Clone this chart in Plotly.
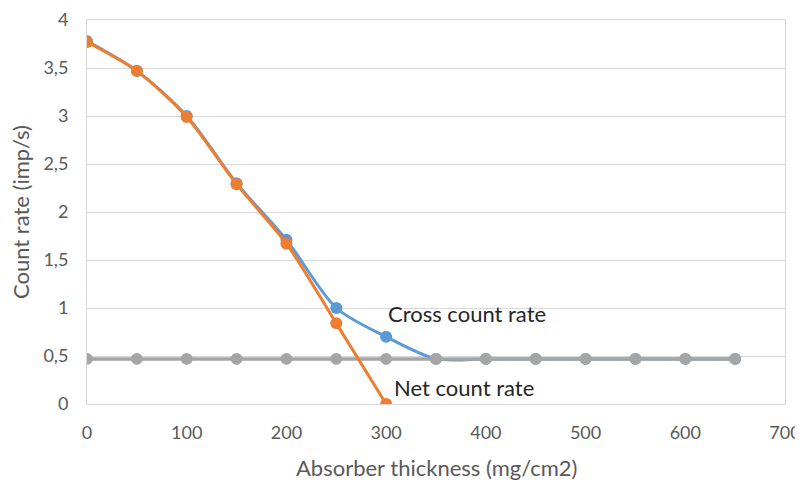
import plotly.graph_objects as go

x_net = [0, 50, 100, 150, 200, 250, 300]
net_rate = [3.77, 3.47, 2.99, 2.29, 1.67, 0.84, 0.0]

x_cross = [0, 50, 100, 150, 200, 250, 300, 350, 400, 450, 500, 550, 600, 650]
cross_rate = [3.78, 3.47, 3.0, 2.30, 1.71, 1.0, 0.70, 0.47, 0.47, 0.47, 0.47, 0.47, 0.47, 0.47]

x_bg = [0, 50, 100, 150, 200, 250, 300, 350, 400, 450, 500, 550, 600, 650]
bg_rate = [0.47] * 14

BLUE = "#5B9BD5"
ORANGE = "#ED7D31"
GRAY = "#A5A5A5"
TXT = "#595959"
FONT = "Lato"

fig = go.Figure()
fig.add_trace(go.Scatter(x=x_cross, y=cross_rate, mode="lines+markers",
                         line=dict(color=BLUE, width=3, shape="spline", smoothing=0.8),
                         marker=dict(color=BLUE, size=12), name="Cross count rate"))
fig.add_trace(go.Scatter(x=x_bg, y=bg_rate, mode="lines+markers",
                         line=dict(color=GRAY, width=3.5),
                         marker=dict(color=GRAY, size=12), name="Background"))
fig.add_trace(go.Scatter(x=x_net, y=net_rate, mode="lines+markers",
                         line=dict(color=ORANGE, width=3, shape="spline", smoothing=0.8),
                         marker=dict(color=ORANGE, size=12), name="Net count rate"))

fig.add_annotation(x=300, y=0.94, text="Cross count rate", showarrow=False,
                   xanchor="left", yanchor="middle",
                   font=dict(family=FONT, size=22, color="#262626"))
fig.add_annotation(x=306, y=0.17, text="Net count rate", showarrow=False,
                   xanchor="left", yanchor="middle",
                   font=dict(family=FONT, size=22, color="#262626"))

# axis titles as annotations
fig.add_annotation(xref="paper", yref="paper", x=0, y=0.5, xshift=-67,
                   text="Count rate (imp/s)", textangle=-90, showarrow=False,
                   xanchor="center", yanchor="middle",
                   font=dict(family=FONT, size=22, color=TXT))
fig.add_annotation(xref="paper", yref="paper", x=0.5, y=0, yshift=-63,
                   text="Absorber thickness (mg/cm2)", showarrow=False,
                   xanchor="center", yanchor="middle",
                   font=dict(family=FONT, size=22, color=TXT))

fig.update_layout(
    width=795, height=472,
    margin=dict(l=79, r=18, t=12, b=76),
    paper_bgcolor="white", plot_bgcolor="white",
    showlegend=False,
    separators=", ",
    font=dict(family=FONT, size=18, color=TXT),
)
fig.update_xaxes(range=[0, 700], dtick=100, tick0=0, showgrid=False, automargin=False,
                 showline=True, linecolor="#D9D9D9", linewidth=1, mirror=True,
                 zeroline=False, ticks="", ticklabelstandoff=12, ticklabeloverflow="allow",
                 tickfont=dict(family=FONT, size=18, color=TXT))
fig.update_yaxes(range=[0, 4], dtick=0.5, tick0=0, showgrid=True, gridcolor="#D9D9D9",
                 gridwidth=1, showline=True, linecolor="#D9D9D9", linewidth=1, mirror=True,
                 zeroline=False, ticks="", ticklabelstandoff=14, automargin=False,
                 ticklabeloverflow="allow",
                 tickfont=dict(family=FONT, size=18, color=TXT))

fig.write_html("out.html")
